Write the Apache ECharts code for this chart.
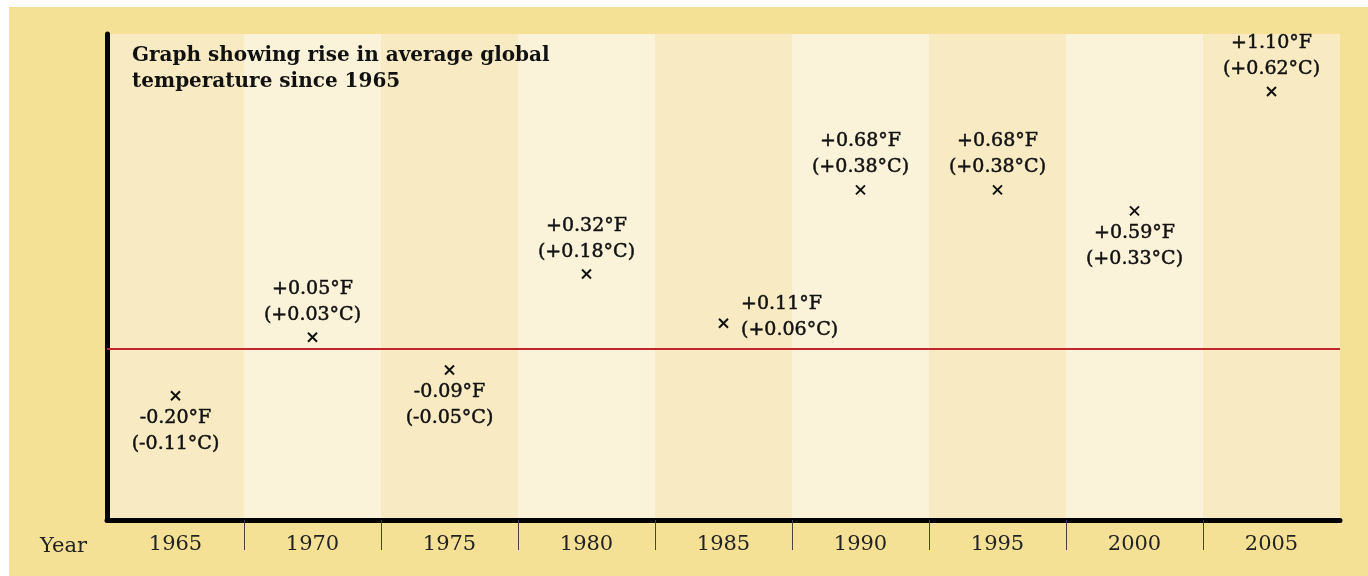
<!DOCTYPE html>
<html>
<head>
<meta charset="utf-8">
<script src="https://cdn.jsdelivr.net/npm/echarts@6/dist/echarts.min.js"></script>
<style>
  html, body { margin: 0; padding: 0; background: #ffffff; width: 1368px; height: 576px; overflow: hidden; }
  #chart { position: absolute; left: 9px; top: 7px; width: 1359px; height: 569px; background: #F5E196; }
</style>
</head>
<body>
<div id="chart"></div>
<script>
// ---- data ----
const years = ['1965', '1970', '1975', '1980', '1985', '1990', '1995', '2000', '2005'];
const riseF = [-0.20, 0.05, -0.09, 0.32, 0.11, 0.68, 0.68, 0.59, 1.10];
const riseC = [-0.11, 0.03, -0.05, 0.18, 0.06, 0.38, 0.38, 0.33, 0.62];
const titleText = 'Graph showing rise in average global\ntemperature since 1965';
const axisName = 'Year';

// label placement (style only)
const labelSide = ['bottom', 'top', 'bottom', 'top', 'right', 'top', 'top', 'bottom', 'top'];

const fmt = v => (v < 0 ? '-' : '+') + Math.abs(v).toFixed(2);

const seriesData = riseF.map((v, i) => {
  const side = labelSide[i];
  const lab = { position: side };
  if (side === 'right') { lab.distance = 12; lab.offset = [0, -6]; }
  return { value: v, label: lab };
});

const chart = echarts.init(document.getElementById('chart'), null, { renderer: 'canvas' });
const FONT = 'DejaVu Serif';
chart.setOption({
  animation: false,
  title: [
    {
      text: titleText, left: 118, top: 31,
      textStyle: { fontFamily: FONT, fontWeight: 'bold', fontSize: 20, lineHeight: 26, color: '#111' }
    },
    {
      text: axisName, left: 26, top: 524,
      textStyle: { fontFamily: FONT, fontWeight: 'normal', fontSize: 21, color: '#222' }
    }
  ],
  grid: { left: 98, right: 28, top: 27, bottom: 56 },
  xAxis: [
    {
      type: 'category', data: years, boundaryGap: true,
      axisLine: { show: true, onZero: false, lineStyle: { color: '#000', width: 5 } },
      axisTick: { show: false },
      axisLabel: { fontFamily: FONT, fontSize: 21, color: '#222', margin: 14 },
      splitLine: { show: false },
      splitArea: { show: true, areaStyle: { color: ['#F8EBC3', '#FBF3D9'] } }
    },
    {
      type: 'value', position: 'bottom', min: 0, max: years.length,
      axisLine: { show: false, onZero: false },
      axisLabel: { show: false },
      splitLine: { show: false },
      axisTick: {
        show: true, length: 30, inside: false,
        customValues: years.slice(1).map((_, i) => i + 1),
        lineStyle: { color: '#444', width: 1 }
      }
    }
  ],
  yAxis: {
    type: 'value', min: -0.731, max: 1.346,
    axisLine: { show: true, onZero: false, lineStyle: { color: '#000', width: 5 } },
    axisTick: { show: false },
    axisLabel: { show: false },
    splitLine: { show: false }
  },
  series: [{
    type: 'scatter',
    xAxisIndex: 0,
    data: seriesData,
    symbol: 'path://M0,0L10,10M10,0L0,10',
    symbolSize: 9,
    itemStyle: { color: '#111', borderColor: '#111', borderWidth: 2, opacity: 1 },
    label: {
      show: true,
      fontFamily: FONT, fontSize: 19, lineHeight: 26, color: '#111',
      textBorderColor: '#111', textBorderWidth: 0.5,
      distance: 4,
      formatter: p => fmt(riseF[p.dataIndex]) + '°F\n(' + fmt(riseC[p.dataIndex]) + '°C)'
    },
    markLine: {
      silent: true, symbol: ['none', 'none'],
      label: { show: false },
      lineStyle: { color: '#C0272D', width: 2, type: 'solid', opacity: 1 },
      data: [{ yAxis: 0 }]
    },
    z: 5
  }]
});
</script>
</body>
</html>
